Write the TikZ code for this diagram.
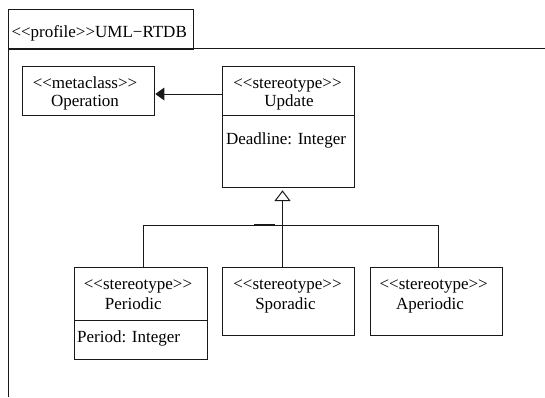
\documentclass[tikz,border=0pt]{standalone}
\usepackage{fontspec}
\setmainfont{Liberation Serif}
\usetikzlibrary{arrows.meta}
\newcommand{\guilL}{<{}<}
\newcommand{\guilR}{>{}>}
\begin{document}
\begin{tikzpicture}[x=1pt,y=-1pt,
  font=\fontsize{17}{20}\selectfont,
  line width=1pt, draw=black!90,
  box/.style={draw=black!90, rectangle, inner sep=0pt, anchor=north west},
  txt/.style={inner sep=0pt, anchor=base},
  gen/.style={-{Triangle[open,length=10.7pt,width=16pt,fill=white]}},
  assoc/.style={-{Triangle[length=9pt,width=12.7pt]}}]
\useasboundingbox (0,0) rectangle (545,397);
% package frame
\draw (8,397) -- (8,48.5) -- (545,48.5);
\node[box, minimum width=185.3pt, minimum height=39.2pt] (tab) at (8,9.3) {};
\node[txt, anchor=base west] (tabtxt) at (11,37.7) {\guilL profile\guilR UML−RTDB};
% boxes
\node[box, minimum width=132.3pt, minimum height=49pt] (op) at (22,66) {};
\node[box, minimum width=132pt, minimum height=121.3pt] (upd) at (222.3,66) {};
\node[box, minimum width=132.4pt, minimum height=92pt] (per) at (74.3,267.3) {};
\node[box, minimum width=132pt, minimum height=67.7pt] (spo) at (222.3,267.3) {};
\node[box, minimum width=132pt, minimum height=67.7pt] (ape) at (370,267.3) {};
% dividers
\draw (upd.west |- 0,115) -- (upd.east |- 0,115);
\draw (per.west |- 0,320) -- (per.east |- 0,320);
% texts
\node[txt] (opst) at (85,88.5) {\guilL metaclass\guilR};
\node[txt] (opnm) at (85,106.5) {Operation};
\node[txt] (updst) at (287.5,88) {\guilL stereotype\guilR};
\node[txt] (updnm) at (289,106.5) {Update};
\node[txt] (updat) at (286,144) {Deadline: Integer};
\node[txt] (perst) at (138,289.3) {\guilL stereotype\guilR};
\node[txt] (pernm) at (133.3,309.3) {Periodic};
\node[txt, anchor=base west] (perat) at (76.7,342.3) {Period: Integer};
\node[txt] (spost) at (287.5,289.3) {\guilL stereotype\guilR};
\node[txt] (sponm) at (285.5,309.3) {Sporadic};
\node[txt] (apest) at (433.7,289.3) {\guilL stereotype\guilR};
\node[txt] (apenm) at (430,309.3) {Aperiodic};
% association
\path (upd.north west) ++(0,28) coordinate (a1);
\draw[assoc] (a1) -- (a1 -| op.east);
% generalization
\coordinate (bus) at (282,225);
\coordinate (ps) at ([xshift=2.5pt]per.north);
\coordinate (as) at ([xshift=2.3pt]ape.north);
\draw[gen, shorten >=2pt] ([xshift=-6.3pt]spo.north) -- ([xshift=-6.3pt]upd.south);
\draw (ps) -- (ps |- bus) -- (as |- bus) -- (as);
\draw[line width=1.3pt] (254,225) -- (275,225);
\end{tikzpicture}
\end{document}
